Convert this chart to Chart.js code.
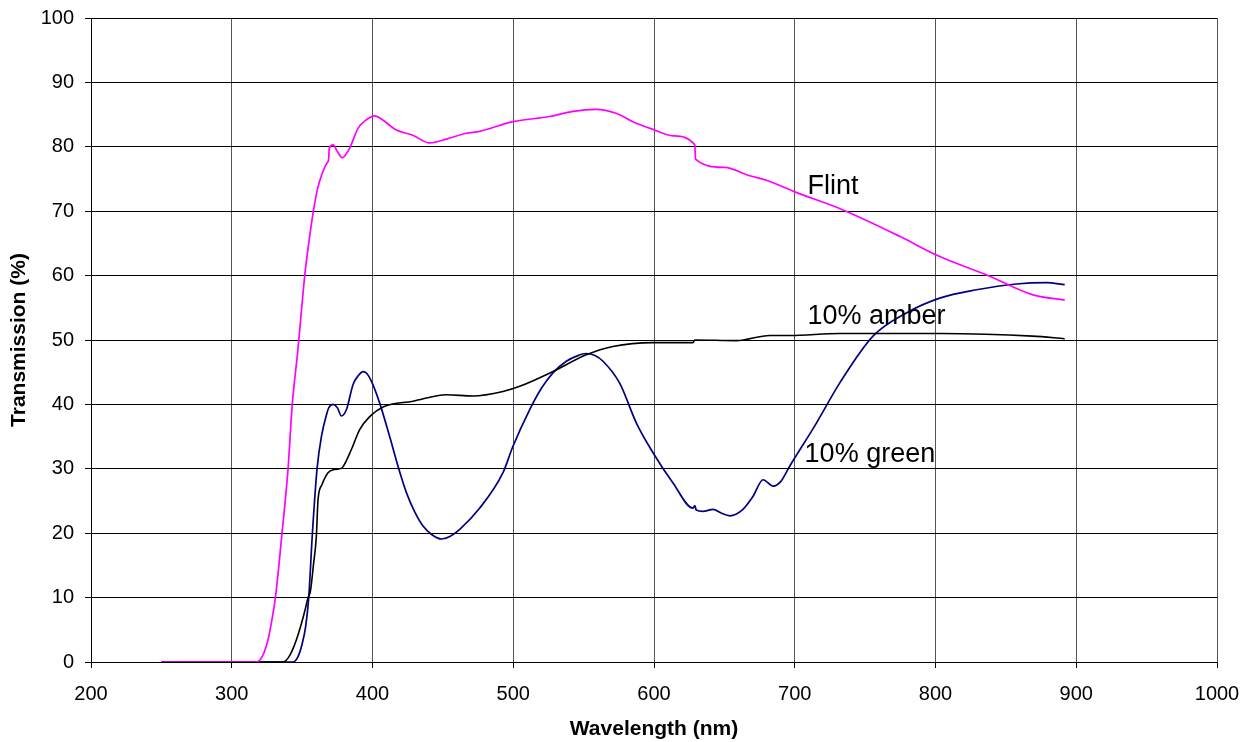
<!DOCTYPE html>
<html>
<head>
<meta charset="utf-8">
<script src="https://cdn.jsdelivr.net/npm/chart.js@4/dist/chart.umd.min.js"></script>
<style>
  html, body { margin:0; padding:0; background:#fff; }
  #wrap { width:1252px; height:742px; position:relative; }
</style>
</head>
<body>
<div id="wrap"><canvas id="chartGlass"></canvas></div>
<script>
// wavelength (nm) / transmission (%)
const flintNm = [250, 317.5, 322, 325.8, 328.5, 331, 333.5, 335.7, 338, 340, 343, 347, 349.5, 352, 355, 358, 361, 364, 367.7, 368.8, 369.3, 372, 375, 378.6, 381, 383.8, 389.8, 395.7, 401.6, 407, 417, 428.6, 440.6, 452.5, 466.7, 476, 499.8, 525.9, 542.5, 559, 573, 585, 599.3, 613.5, 629, 629.5, 650, 668, 680, 700, 734.3, 774.6, 800.6, 838.5, 869.3, 891.8];
const flintT  = [0, 0, 1, 3.5, 6.5, 10, 15, 20, 25, 30, 40, 48.5, 54.5, 60.3, 65.5, 70, 73.5, 75.7, 77.5, 78, 79.8, 80.3, 79.3, 78.3, 78.8, 79.8, 82.9, 84.2, 84.8, 84.2, 82.6, 81.8, 80.6, 81.2, 82.1, 82.4, 83.9, 84.7, 85.5, 85.8, 85.2, 83.9, 82.7, 81.7, 80.3, 78.1, 76.8, 75.5, 74.8, 73.0, 70.2, 66.1, 63.2, 59.9, 57.0, 56.2];

const amberNm = [250, 336.4, 340, 343, 346, 349, 352, 354.2, 355.9, 358, 360.1, 361.3, 364, 368.4, 373.1, 376.7, 379, 385, 390.9, 398, 407.5, 428.8, 452.5, 471.4, 492.7, 504.6, 528.2, 551.9, 570.8, 599.3, 627.7, 629, 658.5, 682.2, 696.4, 731.9, 803, 869, 891.8];
const amberT  = [0, 0, 0.6, 1.8, 3.5, 5.6, 8, 10, 11, 15, 19.5, 25.2, 27.5, 29.4, 29.9, 30, 30.3, 33, 36.1, 38.1, 39.6, 40.5, 41.5, 41.3, 42.0, 42.8, 45.1, 47.7, 49.0, 49.6, 49.6, 50.0, 49.9, 50.7, 50.7, 51.0, 51.0, 50.6, 50.2];

const greenNm = [250, 343.5, 347, 350, 352.5, 354.7, 357.3, 360.6, 363.7, 367.7, 369, 372, 375, 377.9, 381.5, 386.2, 390, 393.3, 396, 399.2, 405.1, 412.2, 418, 424.1, 430, 435.9, 442, 449, 455, 462, 476.2, 492.7, 499.8, 511.7, 520, 528.2, 537.7, 545, 551.9, 558, 563.8, 575.6, 587.5, 599.3, 613.5, 627.7, 629, 630, 634.8, 641.9, 648, 653.8, 663.2, 670.3, 677.5, 684.6, 690, 696.4, 715.4, 731.9, 755.6, 779.3, 803, 829.1, 857.5, 878.8, 891.8];
const greenT  = [0, 0, 0.8, 2.8, 5.5, 10, 20, 30, 35, 38.7, 39.5, 40, 39.5, 38.2, 39.2, 43.1, 44.5, 45.1, 44.8, 43.6, 40.2, 35, 30.5, 26.3, 23.3, 21.1, 19.8, 19.1, 19.5, 20.6, 23.9, 29.4, 33.5, 39.2, 42.5, 44.9, 46.7, 47.5, 47.9, 47.6, 46.7, 43.3, 37.1, 32.5, 27.8, 23.9, 24.3, 23.6, 23.4, 23.7, 23.1, 22.7, 23.7, 25.7, 28.3, 27.3, 28.0, 30.4, 37.1, 43.3, 50.6, 54.2, 56.5, 57.8, 58.7, 58.9, 58.6];

const seriesNames = ['Flint', '10% amber', '10% green'];
const xTicks = [200, 300, 400, 500, 600, 700, 800, 900, 1000];
const yTicks = [0, 10, 20, 30, 40, 50, 60, 70, 80, 90, 100];

const pts = (xs, ys) => xs.map((x, i) => ({ x, y: ys[i] }));

// where each curve name sits, in data units (left edge / baseline)
const curveLabels = [
  { text: seriesNames[0], nm: 709, t: 72.7 },
  { text: seriesNames[1], nm: 709, t: 52.5 },
  { text: seriesNames[2], nm: 707, t: 31 },
];

const labelPlugin = {
  id: 'curveLabels',
  afterDatasetsDraw(chart) {
    const { ctx, scales: { x, y } } = chart;
    ctx.save();
    ctx.font = '27px "Liberation Sans", Arial, sans-serif';
    ctx.fillStyle = '#000';
    ctx.textAlign = 'left';
    ctx.textBaseline = 'alphabetic';
    curveLabels.forEach(l => ctx.fillText(l.text, x.getPixelForValue(l.nm), y.getPixelForValue(l.t)));
    ctx.restore();
  }
};

const tickFont = { family: '"Liberation Sans", Arial, sans-serif', size: 20 };
const titleFont = { family: '"Liberation Sans", Arial, sans-serif', size: 21, weight: 'bold' };

new Chart(document.getElementById('chartGlass'), {
  type: 'line',
  data: {
    datasets: [
      { label: seriesNames[0], data: pts(flintNm, flintT), borderColor: '#ff00ff', borderWidth: 1.7 },
      { label: seriesNames[1], data: pts(amberNm, amberT), borderColor: '#000000', borderWidth: 1.6 },
      { label: seriesNames[2], data: pts(greenNm, greenT), borderColor: '#000080', borderWidth: 1.7 },
    ]
  },
  options: {
    responsive: true,
    maintainAspectRatio: false,
    animation: false,
    layout: { padding: { top: 18, right: 35, left: 0, bottom: 0 } },
    elements: {
      point: { radius: 0 },
      line: { tension: 0, cubicInterpolationMode: 'monotone', fill: false }
    },
    plugins: { legend: { display: false }, tooltip: { enabled: false } },
    scales: {
      x: {
        type: 'linear',
        min: 200, max: 1000,
        afterBuildTicks: s => { s.ticks = xTicks.map(v => ({ value: v })); },
        afterFit: s => { s.height = 80; s.paddingLeft = 0; s.paddingRight = 0; },
        ticks: { color: '#000', font: tickFont, padding: 14, maxRotation: 0, callback: v => String(v) },
        grid: { color: '#555', lineWidth: 1, tickLength: 6, tickColor: '#000' },
        border: { color: '#000', width: 1 },
        title: { display: true, text: 'Wavelength (nm)', color: '#000', font: titleFont, padding: { top: 0, bottom: 0 } }
      },
      y: {
        min: 0, max: 100,
        afterBuildTicks: s => { s.ticks = yTicks.map(v => ({ value: v })); },
        afterFit: s => { s.width = 91; s.paddingTop = 0; s.paddingBottom = 0; },
        ticks: { color: '#000', font: tickFont, padding: 11, callback: v => String(v) },
        grid: { color: '#000', lineWidth: 1, tickLength: 6, tickColor: '#000' },
        border: { color: '#000', width: 1 },
        title: { display: true, text: 'Transmission (%)', color: '#000', font: titleFont, padding: { top: 7, bottom: 0 } }
      }
    }
  },
  plugins: [labelPlugin]
});
</script>
</body>
</html>
